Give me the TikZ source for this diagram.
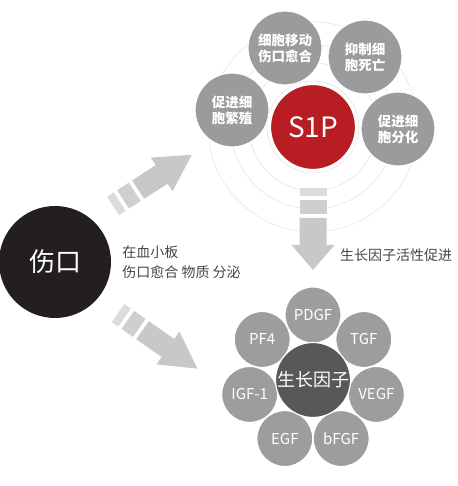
\documentclass[tikz,border=0pt]{standalone}
\usepackage{fontspec}
\setmainfont{Noto Sans CJK SC}
\usepackage{xcolor}
\usetikzlibrary{arrows.meta,positioning}

\definecolor{petalgray}{RGB}{155,155,158}
\definecolor{s1pred}{RGB}{185,29,36}
\definecolor{woundblack}{RGB}{35,31,32}
\definecolor{factorgray}{RGB}{157,157,157}
\definecolor{coregray}{RGB}{88,88,90}
\definecolor{arrowlight}{RGB}{220,220,220}
\definecolor{arrowmid}{RGB}{207,207,207}
\definecolor{arrowgray}{RGB}{200,200,200}
\definecolor{ringgray}{RGB}{228,228,228}
\definecolor{notegray}{RGB}{70,70,70}

% seta larga com duas faixas na cauda: cauda, angulo, comprimento, meia largura, meia cabeca, cabeca
\newcommand{\stripearrow}[6]{%
    \begin{scope}[shift={(#1)}, rotate=#2]
        \fill[arrowlight] (0,-#4) rectangle (8,#4);
        \fill[arrowmid] (12,-#4) rectangle (26,#4);
        \fill[arrowgray] (30,-#4) -- (#3-#6,-#4) -- (#3-#6,-#5) -- (#3,0)
            -- (#3-#6,#5) -- (#3-#6,#4) -- (30,#4) -- cycle;
    \end{scope}}

\begin{document}
\begin{tikzpicture}[
        x=1pt, y=1pt,
        wound/.style={
            circle,
            fill=woundblack,
            minimum size=112pt,
            inner sep=0pt,
            text=white,
            font=\fontsize{26}{30}\selectfont
        },
        petal/.style={
            circle,
            draw=white,
            line width=1.2pt,
            fill=petalgray,
            minimum size=74pt,
            inner sep=0pt,
            align=center,
            text=white,
            font=\fontsize{13.5}{16}\selectfont\bfseries
        },
        hub/.style={
            petal,
            fill=s1pred,
            minimum size=85pt,
            font=\fontsize{28}{32}\selectfont
        },
        factor/.style={
            circle,
            draw=white,
            line width=1.2pt,
            fill=factorgray,
            minimum size=56pt,
            inner sep=0pt,
            text=white,
            font=\fontsize{15}{18}\selectfont
        },
        core/.style={
            factor,
            fill=coregray,
            minimum size=75pt,
            font=\fontsize{18}{22}\selectfont
        },
        note/.style={
            inner sep=0pt,
            align=left,
            text=notegray,
            font=\fontsize{14}{20}\selectfont
        },
        ring/.style={draw=ringgray, line width=0.6pt}
    ]
        \useasboundingbox (0,0) rectangle (457,486);
        \clip (0,0) rectangle (457,486);

        % pontos de apoio
        \coordinate (s1pc) at (313,359);
        \coordinate (gfc) at (313,106);
        \coordinate (upTail) at (113,280);
        \coordinate (lowTail) at (118,173);
        \coordinate (midTail) at (313,298);

        % aneis em volta do S1P
        \foreach \r in {46,64,82,105}
            \draw[ring] (s1pc) circle[radius=\r];

        % ferida e texto de liberacao
        \node[wound] (wound) at (55,224) {伤口};
        \node[note, right=11pt of wound] (release) {在血小板\\伤口愈合 物质 分泌};

        % setas largas
        \stripearrow{upTail}{33}{94}{11}{20}{36}
        \stripearrow{lowTail}{-35}{97}{11}{20}{36}
        \stripearrow{midTail}{-90}{82}{13.5}{21.5}{25}
        \node[note, anchor=west] (boost) at (340,231) {生长因子活性促进};

        % efeitos do S1P
        \node[petal] (migrate) at (285,438) {细胞移动\\伤口愈合};
        \node[petal] (survive) at (365,429) {抑制细\\胞死亡};
        \node[petal] (prolif) at (232,376) {促进细\\胞繁殖};
        \node[petal] (differ) at (398,357) {促进细\\胞分化};
        \node[hub] (s1p) at (s1pc) {S1P};

        % fatores de crescimento
        \foreach \lbl [count=\i] in {PDGF,TGF,VEGF,bFGF,EGF,IGF-1,PF4}
            \node[factor] (gf\i) at ([shift={({90-(\i-1)*360/7}:65)}]gfc) {\lbl};
        \node[core] (growth) at (gfc) {生长因子};
    \end{tikzpicture}
\end{document}
